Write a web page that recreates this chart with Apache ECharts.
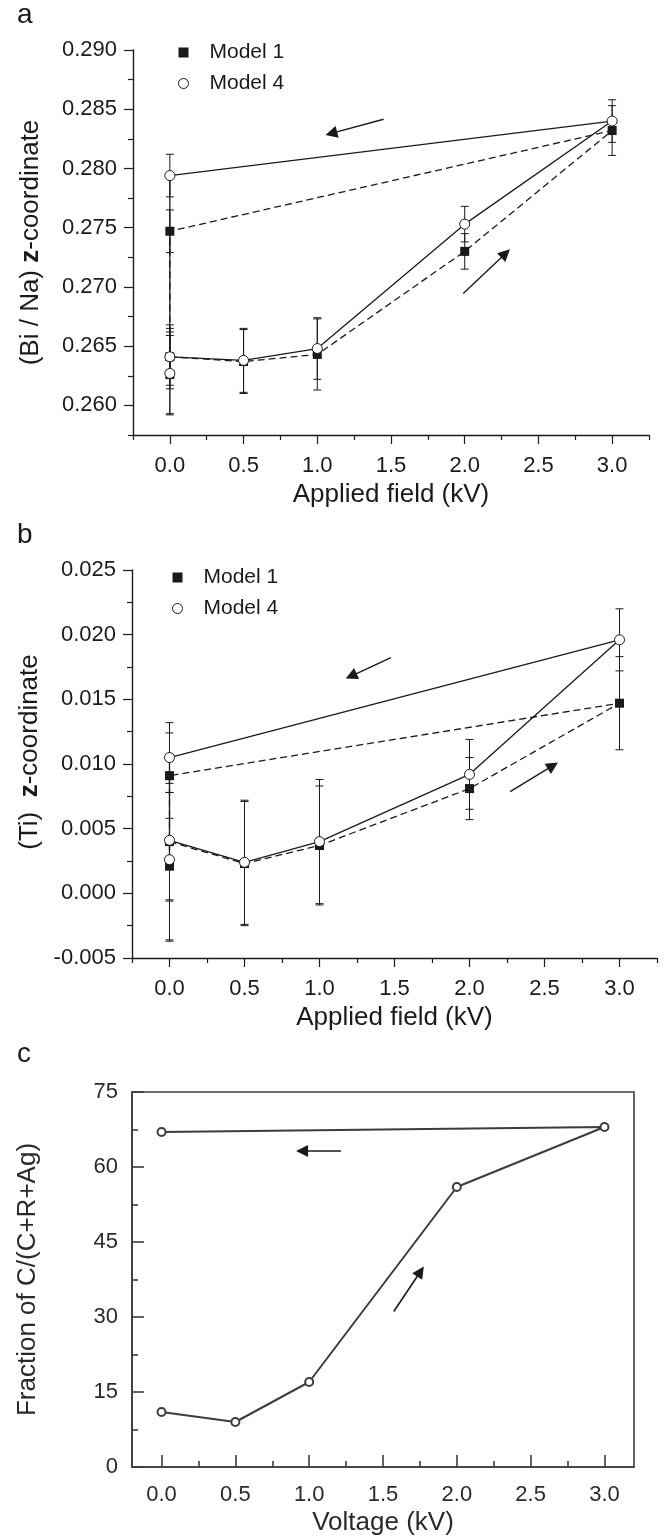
<!DOCTYPE html>
<html>
<head>
<meta charset="utf-8">
<script src="https://cdn.jsdelivr.net/npm/echarts@6/dist/echarts.min.js"></script>
<style>
  html, body { margin: 0; padding: 0; background: #fff; }
  #chart { width: 667px; height: 1540px; }
</style>
</head>
<body>
<div id="chart"></div>
<script>
// panel a: (Bi / Na) z-coordinate vs applied field
const fieldA = [0, 0.5, 1, 2, 3, 0, 0]
const model1A = [0.2641, 0.2637, 0.2643, 0.2730, 0.2832, 0.2747, 0.2626]
const model1AErr = [0.0024, 0.0027, 0.0030, 0.0015, 0.0021, 0.0018, 0.0033]
const model4A = [0.2641, 0.2638, 0.2648, 0.2753, 0.2840, 0.2794, 0.2627]
const model4AErr = [0.0027, 0.0027, 0.0026, 0.0015, 0.0018, 0.0018, 0.0035]

// panel b: (Ti) z-coordinate vs applied field
const fieldB = [0, 0.5, 1, 2, 3, 0, 0]
const model1B = [0.0040, 0.0023, 0.0037, 0.0081, 0.0147, 0.0091, 0.0021]
const model1BErr = [0.0045, 0.0048, 0.0046, 0.0024, 0.0036, 0.0033, 0.0057]
const model4B = [0.0041, 0.0024, 0.0040, 0.0092, 0.0196, 0.0105, 0.0026]
const model4BErr = [0.0047, 0.0048, 0.0048, 0.0027, 0.0024, 0.0027, 0.0063]

// panel c: fraction vs voltage
const voltageC = [0, 0.5, 1, 2, 3, 0]
const fractionC = [11, 9, 17, 56, 68, 67]

// direction arrows [from, to] in data units
const arrowsA = [[[1.45, 0.28415], [1.095, 0.28296]], [[1.99, 0.26945], [2.277, 0.27283]]]
const arrowsB = [[[1.476, 0.01822], [1.211, 0.0168]], [[2.271, 0.00786], [2.556, 0.00987]]]
const arrowsC = [[[1.216, 63.2], [0.952, 63.2]], [[1.573, 31.1], [1.754, 39.1]]]

// ticks
const fieldMajor = [0, 0.5, 1, 1.5, 2, 2.5, 3]
const fieldMinor = [-0.25, 0.25, 0.75, 1.25, 1.75, 2.25, 2.75, 3.25]
const voltMinor = [0.25, 0.75, 1.25, 1.75, 2.25, 2.75]
const zaMajor = [0.260, 0.265, 0.270, 0.275, 0.280, 0.285, 0.290]
const zaMinor = [0.2575, 0.2625, 0.2675, 0.2725, 0.2775, 0.2825, 0.2875]
const zbMajor = [-0.005, 0, 0.005, 0.010, 0.015, 0.020, 0.025]
const zbMinor = [-0.0025, 0.0025, 0.0075, 0.0125, 0.0175, 0.0225]
const fracMajor = [0, 15, 30, 45, 60, 75]
const fracMinor = [7.5, 22.5, 37.5, 52.5, 67.5]

const FONT = 'Liberation Sans, Arial, sans-serif'
const INK = '#1a1a1a'
const GREY = '#3c3c3c'

const zip = (xs, ys) => xs.map((x, i) => [x, ys[i]])
const zip3 = (xs, ys, es) => xs.map((x, i) => [x, ys[i], es[i]])

const chartInstance = echarts.init(document.getElementById('chart'))

const errorBars = (data, gi) => ({
  type: 'custom',
  xAxisIndex: gi * 2,
  yAxisIndex: gi * 2,
  z: 1,
  silent: true,
  data: data,
  renderItem: (params, api) => {
    const x = api.value(0)
    const y = api.value(1)
    const e = api.value(2)
    const top = api.coord([x, y + e])
    const bot = api.coord([x, y - e])
    const style = { stroke: INK, lineWidth: 1 }
    return {
      type: 'group',
      children: [
        { type: 'line', shape: { x1: top[0], y1: top[1], x2: bot[0], y2: bot[1] }, style },
        { type: 'line', shape: { x1: top[0] - 4, y1: top[1], x2: top[0] + 4, y2: top[1] }, style },
        { type: 'line', shape: { x1: bot[0] - 4, y1: bot[1], x2: bot[0] + 4, y2: bot[1] }, style },
      ],
    }
  },
})

const arrowLines = (arrows, color, width) => ({
  silent: true,
  symbol: ['none', 'triangle'],
  symbolSize: 12,
  label: { show: false },
  itemStyle: { color: color },
  lineStyle: { color: color, width: width, type: 'solid' },
  emphasis: { disabled: true },
  animation: false,
  data: arrows.map(a => [{ coord: a[0] }, { coord: a[1] }]),
})

const model1Line = (xs, ys, gi) => ({
  name: 'Model 1',
  type: 'line',
  xAxisIndex: gi * 2,
  yAxisIndex: gi * 2,
  z: 3,
  data: zip(xs, ys),
  symbol: 'rect',
  symbolSize: 9,
  itemStyle: { color: INK },
  lineStyle: { color: INK, width: 1.3, type: [7, 4] },
})

const model4Line = (xs, ys, gi, arrows) => ({
  name: 'Model 4',
  type: 'line',
  xAxisIndex: gi * 2,
  yAxisIndex: gi * 2,
  z: 4,
  data: zip(xs, ys),
  symbol: 'circle',
  symbolSize: 10,
  itemStyle: { color: '#fff', borderColor: INK, borderWidth: 1 },
  lineStyle: { color: INK, width: 1.3 },
  markLine: arrowLines(arrows, INK, 1.4),
})

const yName = (text, gap, pad) => ({
  name: text,
  nameLocation: 'middle',
  nameGap: gap,
  nameRotate: 90,
  nameTextStyle: {
    padding: pad,
    rich: {
      r: { fontSize: 26, fontFamily: FONT, color: INK },
      b: { fontSize: 26, fontFamily: FONT, color: INK, fontWeight: 'bold' },
    },
  },
})

const valueAxis = (gi, min, max, extra) => Object.assign({
  type: 'value',
  gridIndex: gi,
  min: min,
  max: max,
  splitLine: { show: false },
}, extra)

const plainAxis = (gi, major, minor, min, max, fmt, pos, label, name) => {
  const main = valueAxis(gi, min, max, Object.assign({
    position: pos,
    axisLine: { show: true, onZero: false, lineStyle: { color: INK, width: 1.4 } },
    axisTick: { show: true, customValues: major, length: 9, lineStyle: { color: INK, width: 1.2 } },
    axisLabel: {
      customValues: major,
      formatter: fmt,
      margin: label.margin,
      fontSize: 22,
      fontFamily: FONT,
      color: INK,
    },
  }, name))
  const minor2 = valueAxis(gi, min, max, {
    position: pos,
    axisLine: { show: false, onZero: false },
    axisTick: { show: true, customValues: minor, length: 5, lineStyle: { color: INK, width: 1.2 } },
    axisLabel: { show: false },
  })
  return [main, minor2]
}

const xNameStyle = { fontSize: 26, fontFamily: FONT, color: INK }
const fmt3 = v => v.toFixed(3)
const fmt1 = v => v.toFixed(1)

const xAxes = [
  ...plainAxis(0, fieldMajor, fieldMinor, -0.25, 3.25, fmt1, 'bottom', { margin: 20 },
    { name: 'Applied field (kV)', nameLocation: 'middle', nameGap: 47, nameTextStyle: xNameStyle }),
  ...plainAxis(1, fieldMajor, fieldMinor, -0.25, 3.25, fmt1, 'bottom', { margin: 20 },
    { name: 'Applied field (kV)', nameLocation: 'middle', nameGap: 47, nameTextStyle: xNameStyle }),
]
const yAxes = [
  ...plainAxis(0, zaMajor, zaMinor, 0.2575, 0.290, fmt3, 'left', { margin: 16 },
    yName('{r|(Bi / Na) }{b|z}{r|-coordinate}', 89, [0, 0, 0, 0])),
  ...plainAxis(1, zbMajor, zbMinor, -0.005, 0.025, fmt3, 'left', { margin: 16 },
    yName('{r|(Ti)  }{b|z}{r|-coordinate}', 89, [0, 0, 0, 24])),
]

// panel c: boxed frame, ticks inside
const cAxis = (dir, major, minor, min, max, fmt, name, gap) => {
  const main = valueAxis(2, min, max, {
    position: dir === 'x' ? 'bottom' : 'left',
    axisLine: { show: true, onZero: false, lineStyle: { color: GREY, width: 1.6 } },
    axisTick: { show: true, inside: true, customValues: major, length: 12, lineStyle: { color: GREY, width: 1.6 } },
    axisLabel: { customValues: major, formatter: fmt, margin: dir === 'x' ? 17 : 14, fontSize: 22, fontFamily: FONT, color: '#2a2a2a' },
    name: name,
    nameLocation: 'middle',
    nameGap: gap,
    nameRotate: dir === 'x' ? 0 : 90,
    nameTextStyle: { fontSize: 26, fontFamily: FONT, color: '#2a2a2a' },
  })
  const minor2 = valueAxis(2, min, max, {
    position: dir === 'x' ? 'bottom' : 'left',
    axisLine: { show: false, onZero: false },
    axisTick: { show: true, inside: true, customValues: minor, length: 6, lineStyle: { color: GREY, width: 1.6 } },
    axisLabel: { show: false },
  })
  return [main, minor2]
}

xAxes.push(...cAxis('x', fieldMajor, voltMinor, -0.2, 3.2, fmt1, 'Voltage (kV)', 43))
yAxes.push(...cAxis('y', fracMajor, fracMinor, 0, 75, v => String(v), 'Fraction of C/(C+R+Ag)', 91))

const legendFor = (left, top) => ({
  orient: 'vertical',
  left: left,
  top: top,
  padding: 0,
  itemGap: 10,
  itemWidth: 10,
  itemHeight: 10,
  selectedMode: false,
  textStyle: { fontSize: 21, fontFamily: FONT, color: INK, padding: [0, 0, 0, 16] },
  data: [
    { name: 'Model 1', icon: 'rect', itemStyle: { color: INK } },
    { name: 'Model 4', icon: 'circle', itemStyle: { color: '#fff', borderColor: INK, borderWidth: 1 } },
  ],
})

const panelLabel = (text, top) => ({
  text: text,
  left: 17,
  top: top,
  padding: 0,
  textStyle: { fontSize: 28, fontWeight: 'normal', fontFamily: FONT, color: INK },
})

const option = {
  animation: false,
  backgroundColor: '#fff',
  title: [panelLabel('a', 1), panelLabel('b', 521), panelLabel('c', 1040)],
  legend: [legendFor(178, 42), legendFor(172, 567)],
  grid: [
    { left: 133, right: 18, top: 50, height: 385 },
    { left: 132, right: 10, top: 570, height: 388 },
    { left: 132, right: 33, top: 1092, height: 375, show: true, borderColor: GREY, borderWidth: 1.6, backgroundColor: 'transparent' },
  ],
  xAxis: xAxes,
  yAxis: yAxes,
  series: [
    errorBars(zip3(fieldA, model1A, model1AErr), 0),
    errorBars(zip3(fieldA, model4A, model4AErr), 0),
    model1Line(fieldA, model1A, 0),
    model4Line(fieldA, model4A, 0, arrowsA),
    errorBars(zip3(fieldB, model1B, model1BErr), 1),
    errorBars(zip3(fieldB, model4B, model4BErr), 1),
    model1Line(fieldB, model1B, 1),
    model4Line(fieldB, model4B, 1, arrowsB),
    {
      name: 'Fraction',
      type: 'line',
      xAxisIndex: 4,
      yAxisIndex: 4,
      data: zip(voltageC, fractionC),
      symbol: 'emptyCircle',
      symbolSize: 8,
      itemStyle: { color: GREY, borderColor: GREY, borderWidth: 1 },
      lineStyle: { color: GREY, width: 2 },
      markLine: arrowLines(arrowsC, INK, 1.6),
    },
  ],
}

chartInstance.setOption(option)
window.addEventListener('resize', () => chartInstance.resize())
</script>
</body>
</html>
